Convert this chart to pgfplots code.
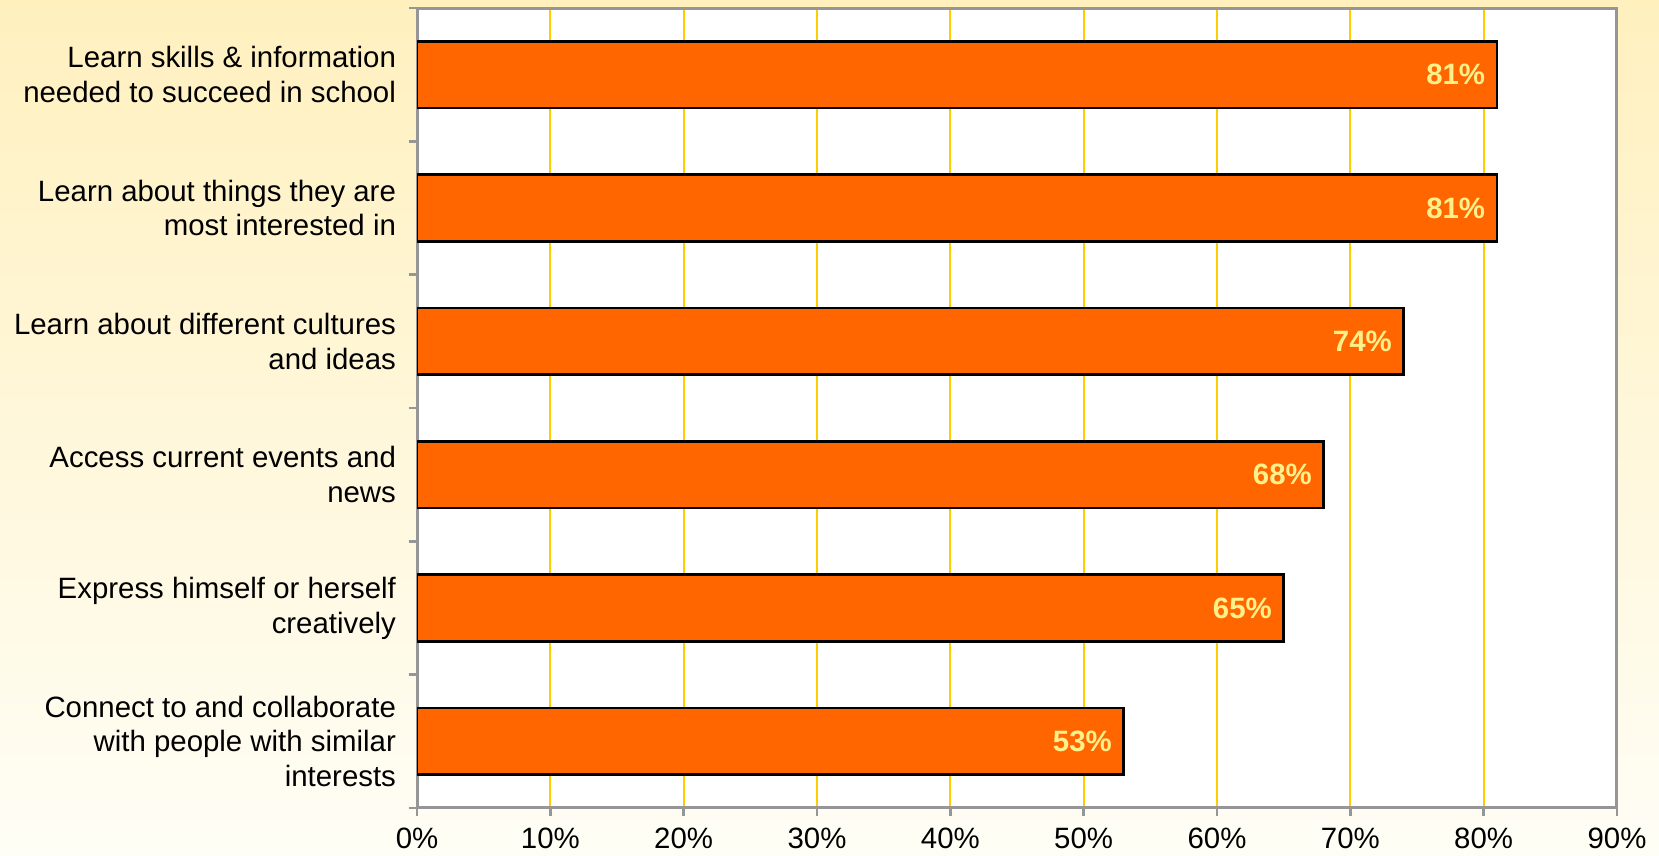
\documentclass[border=0pt]{standalone}
\usepackage{pgfplots}
\pgfplotsset{compat=1.18}
\usepackage{fontspec}
\setmainfont{Liberation Sans}
\definecolor{barorange}{HTML}{FF6600}
\definecolor{gridgold}{HTML}{FFCC00}
\definecolor{axgray}{HTML}{969696}
\definecolor{lblyellow}{HTML}{FFF08A}
\definecolor{bgtop}{HTML}{FFF0BE}
\definecolor{bgbot}{HTML}{FFFEF6}
\begin{document}
\begin{tikzpicture}
\path[use as bounding box] (0,0) rectangle (829.5pt,428pt);
\fill[top color=bgtop, bottom color=bgbot] (0,0) rectangle (829.5pt,428pt);
\begin{axis}[
  scale only axis,
  width=600pt, height=400pt,
  at={(208.5pt,24pt)}, anchor=south west,
  xbar, bar width=0.5,
  xmin=0, xmax=90,
  ymin=0.5, ymax=6.5,
  xtick={0,10,...,90},
  xticklabel={\pgfmathprintnumber{\tick}\%},
  /pgf/number format/assume math mode=true,
  ytick={1,2,3,4,5,6},
  yticklabels={
    {Connect to and collaborate\\with people with similar\\interests},
    {Express himself or herself\\creatively},
    {Access current events and\\news},
    {Learn about different cultures\\and ideas},
    {Learn about things they are\\most interested in},
    {Learn skills \& information\\needed to succeed in school}},
  yticklabel style={align=right, font=\fontsize{14.7}{17.4}\selectfont, xshift=-3pt},
  xticklabel style={font=\fontsize{14.7}{17}\selectfont, yshift=-2.5pt},
  xtick pos=bottom, ytick pos=left,
  minor ytick={0.5,1.5,...,6.5},
  y tick style={draw=none},
  minor y tick style={draw=axgray, line width=1.4pt},
  x tick style={draw=axgray, line width=1.4pt},
  tick align=outside,
  major tick length=4pt,
  minor tick length=4pt,
  axis line style={draw=axgray, line width=1.5pt},
  axis background/.style={fill=white},
  xmajorgrids,
  major x grid style={draw=gridgold, line width=1pt},
  nodes near coords={\pgfmathprintnumber{\pgfplotspointmeta}\%},
  every node near coord/.append style={anchor=east, xshift=-2pt, text=lblyellow, font=\fontsize{14.7}{17}\selectfont\bfseries},
]
\addplot[fill=barorange, draw=black, line width=1.2pt] coordinates {
  (53,1) (65,2) (68,3) (74,4) (81,5) (81,6)
};
\end{axis}
\end{tikzpicture}
\end{document}
